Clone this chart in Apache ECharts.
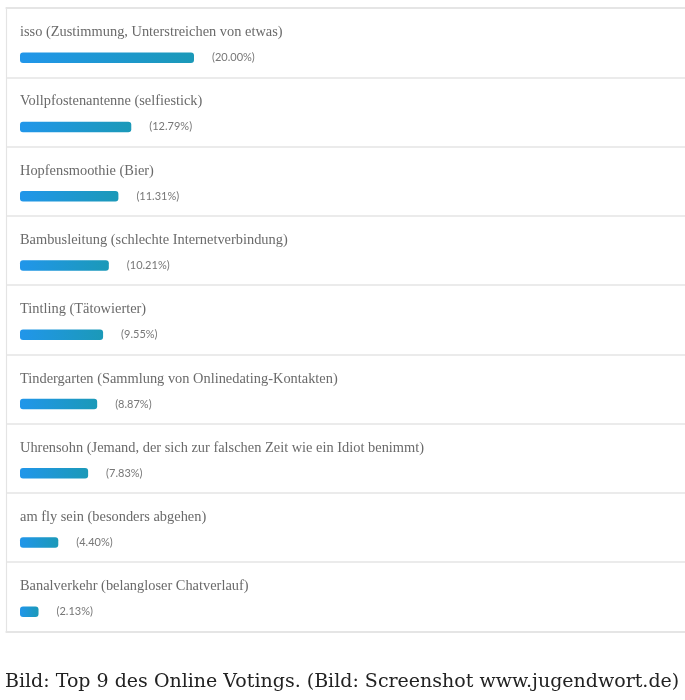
<!DOCTYPE html>
<html>
<head>
<meta charset="utf-8">
<script src="https://cdn.jsdelivr.net/npm/echarts@6/dist/echarts.min.js"></script>
<style>
  html, body { margin: 0; padding: 0; background: #fff; }
  #chart { width: 685px; height: 700px; }
</style>
</head>
<body>
<div id="chart"></div>
<script>
// top 9 words of the online voting
var categories = [
  'isso (Zustimmung, Unterstreichen von etwas)',
  'Vollpfostenantenne (selfiestick)',
  'Hopfensmoothie (Bier)',
  'Bambusleitung (schlechte Internetverbindung)',
  'Tintling (Tätowierter)',
  'Tindergarten (Sammlung von Onlinedating-Kontakten)',
  'Uhrensohn (Jemand, der sich zur falschen Zeit wie ein Idiot benimmt)',
  'am fly sein (besonders abgehen)',
  'Banalverkehr (belangloser Chatverlauf)'
];
var percents = [20.00, 12.79, 11.31, 10.21, 9.55, 8.87, 7.83, 4.40, 2.13];
var caption = 'Bild: Top 9 des Online Votings. (Bild: Screenshot www.jugendwort.de)';

var rowH = 69.27;
var lineCol = '#e4e4e4';
var chart = echarts.init(document.getElementById('chart'));

var option = {
  animation: false,
  title: {
    text: caption,
    left: 0,
    top: 668,
    textStyle: {
      fontFamily: 'DejaVu Serif',
      fontWeight: 'normal',
      fontSize: 19,
      color: '#222'
    }
  },
  grid: [
    // bars
    { left: 20, right: 12.5, top: 23, height: rowH * 9 },
    // card: left edge, top/bottom edges and row separators (open on the right)
    { left: 6, width: 760, top: 8, height: rowH * 9 }
  ],
  xAxis: [
    { gridIndex: 0, type: 'value', min: 0, max: 75, show: false },
    { gridIndex: 1, type: 'value', min: 0, max: 1, position: 'top',
      axisLine: { show: true, onZero: false, lineStyle: { color: lineCol, width: 1.5 } },
      axisTick: { show: false }, axisLabel: { show: false }, splitLine: { show: false } },
    { gridIndex: 1, type: 'value', min: 0, max: 1, position: 'bottom',
      axisLine: { show: true, onZero: false, lineStyle: { color: lineCol, width: 1.5 } },
      axisTick: { show: false }, axisLabel: { show: false }, splitLine: { show: false } }
  ],
  yAxis: [
    {
      gridIndex: 0,
      type: 'category',
      inverse: true,
      data: categories,
      show: false
    },
    {
      gridIndex: 1,
      type: 'category',
      inverse: true,
      data: categories,
      axisLine: { show: true, lineStyle: { color: lineCol, width: 1.2 } },
      axisTick: { show: false },
      axisLabel: { show: false },
      splitLine: { show: true, lineStyle: { color: lineCol, width: 1.5 } }
    }
  ],
  series: [
    {
      // bars, with the word above each one
      type: 'bar',
      xAxisIndex: 0,
      yAxisIndex: 0,
      data: percents,
      barWidth: 10.5,
      itemStyle: {
        borderRadius: 3,
        color: new echarts.graphic.LinearGradient(0, 0, 1, 0, [
          { offset: 0, color: '#2196ea' },
          { offset: 1, color: '#1b99b8' }
        ])
      },
      label: {
        show: true,
        position: [0, -20],
        align: 'left',
        verticalAlign: 'middle',
        fontFamily: 'Liberation Serif',
        fontSize: 14.4,
        color: '#6a6a6a',
        formatter: function (p) { return p.name; }
      }
    },
    {
      // transparent copy carrying the percent label
      type: 'bar',
      xAxisIndex: 0,
      yAxisIndex: 0,
      data: percents,
      barWidth: 10.5,
      barGap: '-100%',
      silent: true,
      itemStyle: { color: 'rgba(0,0,0,0)' },
      label: {
        show: true,
        position: 'right',
        distance: 18,
        fontFamily: 'Lato',
        fontSize: 11,
        color: '#777',
        formatter: function (p) { return '(' + p.value.toFixed(2) + '%)'; }
      }
    }
  ]
};
chart.setOption(option);
</script>
</body>
</html>
